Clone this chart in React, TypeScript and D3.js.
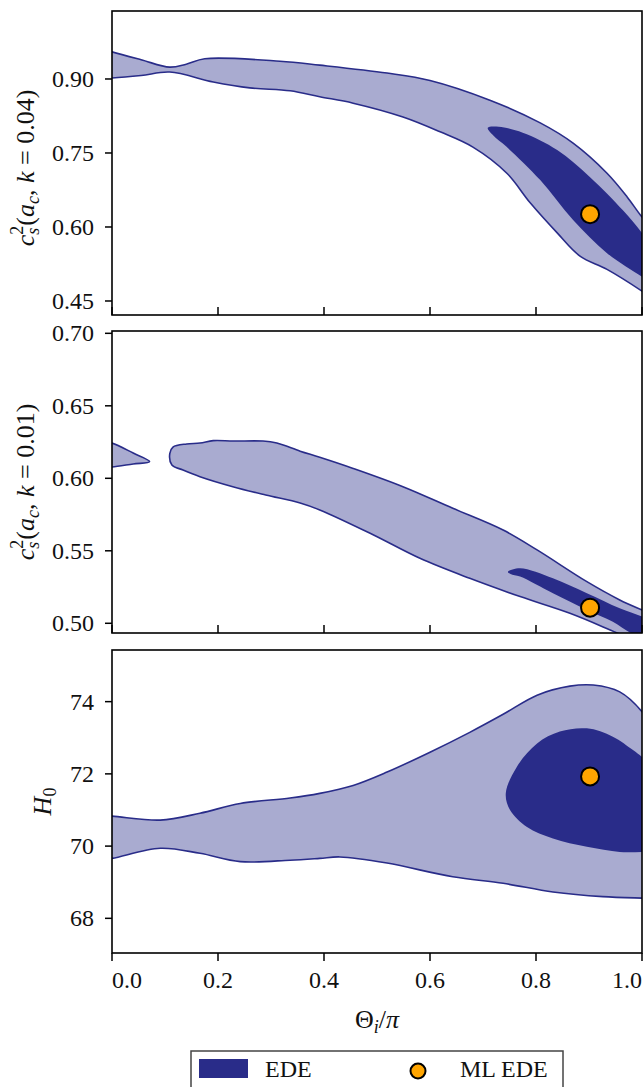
import React from 'react';
import * as d3 from 'd3';

type P = [number, number];

const xTicks = [0, 0.2, 0.4, 0.6, 0.8, 1.0];
const xTickLabels = ['0.0', '0.2', '0.4', '0.6', '0.8', '1.0'];
const p1Ticks = [0.45, 0.6, 0.75, 0.9];
const p1TickLabels = ['0.45', '0.60', '0.75', '0.90'];
const p2Ticks = [0.5, 0.55, 0.6, 0.65, 0.7];
const p2TickLabels = ['0.50', '0.55', '0.60', '0.65', '0.70'];
const p3Ticks = [68, 70, 72, 74];
const p3TickLabels = ['68', '70', '72', '74'];

// Panel 1: c_s^2(a_c, k=0.04) vs Theta_i/pi
const p1Outer: P[] = [
  [-0.03, 0.965], [0, 0.955], [0.055, 0.939], [0.109, 0.924], [0.14, 0.93], [0.175, 0.941],
  [0.317, 0.936], [0.392, 0.928], [0.519, 0.912], [0.6, 0.897], [0.713, 0.857], [0.808, 0.811],
  [0.87, 0.77], [0.934, 0.709], [0.972, 0.661], [1.0, 0.62], [1.04, 0.57], [1.04, 0.44],
  [1.0, 0.47], [0.934, 0.514], [0.883, 0.541], [0.84, 0.588], [0.789, 0.649],
  [0.745, 0.709], [0.681, 0.762], [0.619, 0.793], [0.549, 0.823], [0.455, 0.851], [0.392, 0.864],
  [0.336, 0.876], [0.26, 0.882], [0.191, 0.894], [0.109, 0.914], [0.055, 0.907], [0, 0.902],
  [-0.03, 0.901],
];
const p1Inner: P[] = [
  [0.709, 0.801], [0.73, 0.803], [0.775, 0.791], [0.84, 0.756], [0.902, 0.701], [0.964, 0.634],
  [1.0, 0.588], [1.04, 0.53], [1.04, 0.47], [1.0, 0.499], [0.934, 0.547], [0.87, 0.614],
  [0.808, 0.695], [0.745, 0.762], [0.719, 0.786],
];
const p1Best: P = [0.902, 0.626];

// Panel 2: c_s^2(a_c, k=0.01)
const p2Blob: P[] = [
  [-0.02, 0.6255], [0, 0.6243], [0.04, 0.6174], [0.071, 0.6115], [0.04, 0.6099], [0, 0.6078],
  [-0.02, 0.6074],
];
const p2Outer: P[] = [
  [0.109, 0.617], [0.115, 0.6215], [0.141, 0.6237], [0.166, 0.6243], [0.191, 0.626], [0.229, 0.6257],
  [0.285, 0.6257], [0.311, 0.6243], [0.355, 0.6187], [0.392, 0.6145], [0.455, 0.6068], [0.549, 0.5942],
  [0.643, 0.5793], [0.738, 0.5643], [0.802, 0.5506], [0.896, 0.5287], [0.958, 0.5161], [1.0, 0.5092],
  [1.04, 0.503], [1.04, 0.48], [0.98, 0.489], [0.94, 0.4954], [0.864, 0.5069], [0.77, 0.5184],
  [0.675, 0.531], [0.581, 0.5448], [0.487, 0.5621], [0.392, 0.5782], [0.355, 0.583], [0.29, 0.5885],
  [0.228, 0.5942], [0.166, 0.6011], [0.134, 0.6057], [0.113, 0.6092],
];
const p2Inner: P[] = [
  [0.747, 0.5355], [0.77, 0.5379], [0.832, 0.531], [0.896, 0.5207], [0.958, 0.5103], [1.0, 0.5046],
  [1.04, 0.499], [1.04, 0.485], [0.983, 0.4925], [0.945, 0.5011], [0.896, 0.5092], [0.832, 0.5207],
  [0.77, 0.5322], [0.752, 0.534],
];
const p2Best: P = [0.902, 0.5108];

// Panel 3: H0
const p3Outer: P[] = [
  [-0.03, 70.85], [0, 70.83], [0.091, 70.72], [0.166, 70.91], [0.242, 71.18], [0.336, 71.33],
  [0.392, 71.46], [0.455, 71.68], [0.519, 72.05], [0.6, 72.6], [0.675, 73.15], [0.738, 73.65],
  [0.802, 74.18], [0.864, 74.43], [0.908, 74.46], [0.958, 74.27], [1.0, 73.72], [1.03, 73.0],
  [1.03, 68.55], [1.0, 68.56], [0.926, 68.6], [0.832, 68.73], [0.738, 68.97], [0.643, 69.15],
  [0.519, 69.53], [0.43, 69.7], [0.392, 69.66], [0.336, 69.61], [0.242, 69.57], [0.166, 69.8],
  [0.091, 69.94], [0, 69.66], [-0.03, 69.6],
];
const p3Inner: P[] = [
  [0.743, 71.46], [0.764, 72.2], [0.802, 72.84], [0.845, 73.17], [0.896, 73.26], [0.945, 73.03],
  [0.983, 72.66], [1.0, 72.47], [1.03, 72.1], [1.03, 69.84], [1.0, 69.84], [0.958, 69.84],
  [0.896, 69.98], [0.832, 70.21], [0.783, 70.53], [0.751, 71.0],
];
const p3Best: P = [0.902, 71.93];

const W = 644;
const H = 1087;
const LEFT = 112;
const RIGHT = 642;
const DARK = '#292c89';
const LIGHT = '#a9abd0';
const FONT = '"Liberation Serif", "DejaVu Serif", serif';
const FS = 24;

const x = d3.scaleLinear().domain([0, 1]).range([LEFT, RIGHT]);

type PanelDef = {
  id: string;
  top: number;
  bottom: number;
  domain: [number, number];
  ticks: number[];
  tickLabels: string[];
  contours: { pts: P[]; fill: string; stroke: boolean }[];
  best: P;
  xTicksOutside: boolean;
};

const panels: PanelDef[] = [
  {
    id: 'p1', top: 11, bottom: 315, domain: [0.4216, 1.0378], ticks: p1Ticks, tickLabels: p1TickLabels,
    contours: [
      { pts: p1Outer, fill: LIGHT, stroke: true },
      { pts: p1Inner, fill: DARK, stroke: false },
    ],
    best: p1Best, xTicksOutside: false,
  },
  {
    id: 'p2', top: 331, bottom: 633, domain: [0.4933, 0.7016], ticks: p2Ticks, tickLabels: p2TickLabels,
    contours: [
      { pts: p2Blob, fill: LIGHT, stroke: true },
      { pts: p2Outer, fill: LIGHT, stroke: true },
      { pts: p2Inner, fill: DARK, stroke: false },
    ],
    best: p2Best, xTicksOutside: false,
  },
  {
    id: 'p3', top: 650, bottom: 953, domain: [67.04, 75.43], ticks: p3Ticks, tickLabels: p3TickLabels,
    contours: [
      { pts: p3Outer, fill: LIGHT, stroke: true },
      { pts: p3Inner, fill: DARK, stroke: false },
    ],
    best: p3Best, xTicksOutside: true,
  },
];

function Panel({ p }: { p: PanelDef }) {
  const y = d3.scaleLinear().domain(p.domain).range([p.bottom, p.top]);
  const line = d3
    .line<P>()
    .x((d) => x(d[0]))
    .y((d) => y(d[1]))
    .curve(d3.curveCatmullRomClosed.alpha(0.5));
  return (
    <g>
      <defs>
        <clipPath id={`clip-${p.id}`}>
          <rect x={LEFT} y={p.top} width={RIGHT - LEFT} height={p.bottom - p.top} />
        </clipPath>
      </defs>
      <g clipPath={`url(#clip-${p.id})`}>
        {p.contours.map((c, i) => (
          <path
            key={i}
            d={line(c.pts) || ''}
            fill={c.fill}
            stroke={c.stroke ? DARK : 'none'}
            strokeWidth={1.6}
            strokeLinejoin="round"
          />
        ))}
        <circle cx={x(p.best[0])} cy={y(p.best[1])} r={9} fill="#ffa500" stroke="#000" strokeWidth={2} />
      </g>
      {p.ticks.map((t, i) => (
        <g key={t}>
          <line x1={LEFT - 7} x2={LEFT} y1={y(t)} y2={y(t)} stroke="#000" strokeWidth={1.5} />
          <text
            x={LEFT - 18}
            y={y(t)}
            dy="0.34em"
            textAnchor="end"
            fontFamily={FONT}
            fontSize={FS}
            fill="#111"
          >
            {p.tickLabels[i]}
          </text>
        </g>
      ))}
      {xTicks.map((t) => (
        <line
          key={t}
          x1={x(t)}
          x2={x(t)}
          y1={p.bottom}
          y2={p.xTicksOutside ? p.bottom + 8 : p.bottom - 8}
          stroke="#000"
          strokeWidth={1.5}
        />
      ))}
      <rect
        x={LEFT}
        y={p.top}
        width={RIGHT - LEFT}
        height={p.bottom - p.top}
        fill="none"
        stroke="#000"
        strokeWidth={1.6}
      />
    </g>
  );
}

function CsLabel({ cx, cy, k }: { cx: number; cy: number; k: string }) {
  return (
    <text
      transform={`translate(${cx},${cy}) rotate(-90)`}
      textAnchor="middle"
      fontFamily={FONT}
      fontSize={26}
      fill="#111"
    >
      <tspan fontStyle="italic">c</tspan>
      <tspan fontStyle="italic" fontSize={18} dy={5}>s</tspan>
      <tspan fontSize={18} dx={-7} dy={-16}>2</tspan>
      <tspan dy={11}>(</tspan>
      <tspan fontStyle="italic">a</tspan>
      <tspan fontStyle="italic" fontSize={18} dy={5}>c</tspan>
      <tspan dy={-5}>, </tspan>
      <tspan fontStyle="italic">k</tspan>
      <tspan>{` = ${k})`}</tspan>
    </text>
  );
}

export default function App() {
  const bottom = panels[2].bottom;
  return (
    <svg
      width={W}
      height={H}
      viewBox={`0 0 ${W} ${H}`}
      style={{ position: 'absolute', left: 0, top: 0, background: '#fff' }}
    >
      <rect x={0} y={0} width={W} height={H} fill="#fff" />
      {panels.map((p) => (
        <Panel key={p.id} p={p} />
      ))}
      {xTicks.map((t, i) => (
        <text
          key={t}
          x={x(t)}
          y={988}
          textAnchor={i === 0 ? 'start' : i === xTicks.length - 1 ? 'end' : 'middle'}
          fontFamily={FONT}
          fontSize={FS}
          fill="#111"
        >
          {xTickLabels[i]}
        </text>
      ))}
      <text x={(LEFT + RIGHT) / 2} y={1028} textAnchor="middle" fontFamily={FONT} fontSize={26} fill="#111">
        <tspan>Θ</tspan>
        <tspan fontStyle="italic" fontSize={18} dy={5}>i</tspan>
        <tspan dy={-5}>/</tspan>
        <tspan fontStyle="italic">π</tspan>
      </text>
      <CsLabel cx={34} cy={(panels[0].top + panels[0].bottom) / 2 + 5} k="0.04" />
      <CsLabel cx={34} cy={(panels[1].top + panels[1].bottom) / 2} k="0.01" />
      <text
        transform={`translate(51,${(panels[2].top + bottom) / 2}) rotate(-90)`}
        textAnchor="middle"
        fontFamily={FONT}
        fontSize={26}
        fill="#111"
      >
        <tspan fontStyle="italic">H</tspan>
        <tspan fontSize={18} dy={5}>0</tspan>
      </text>
      <g>
        <rect x={191} y={1051} width={372} height={60} fill="#fff" stroke="#444" strokeWidth={1.5} />
        <rect x={199} y={1059} width={49} height={19} fill={DARK} />
        <text x={265} y={1077} fontFamily={FONT} fontSize={FS} fill="#111">EDE</text>
        <circle cx={418} cy={1071} r={7.5} fill="#ffa500" stroke="#000" strokeWidth={2} />
        <text x={460} y={1077} fontFamily={FONT} fontSize={FS} fill="#111">ML EDE</text>
      </g>
    </svg>
  );
}
